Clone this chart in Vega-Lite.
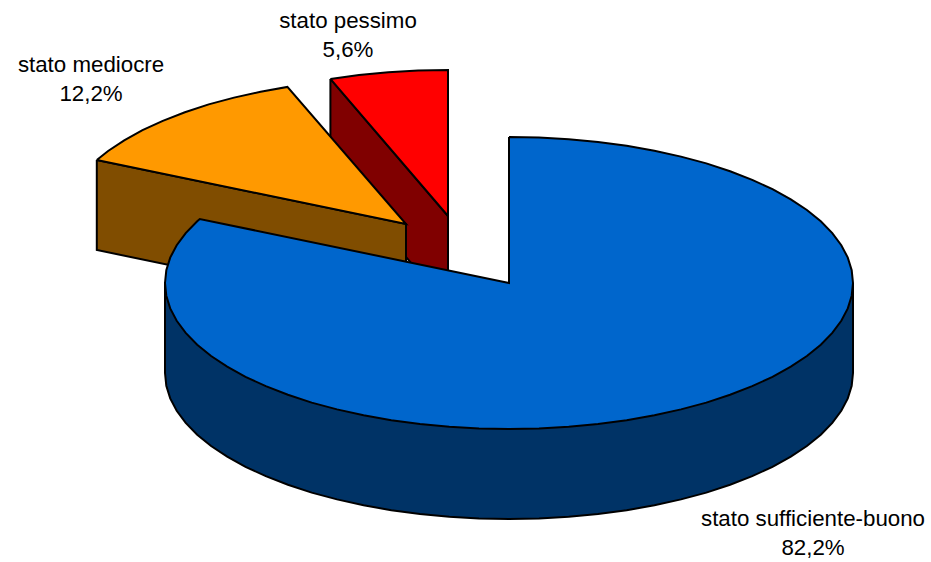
{
  "$schema": "https://vega.github.io/schema/vega-lite/v6.json",
  "width": 931,
  "height": 562,
  "autosize": {"type": "fit", "contains": "padding"},
  "padding": 0,
  "background": "white",
  "view": {"stroke": null},
  "datasets": {
    "facce": [
      {"faccia":"pessimo lato","x":-178.6,"y":204.1},{"faccia":"pessimo lato","x":-61,"y":67},{"faccia":"pessimo lato","x":-61,"y":-23},{"faccia":"pessimo lato","x":-178.6,"y":114.1},{"faccia":"pessimo lato","x":-178.6,"y":204.1},

      {"faccia":"pessimo","x":-178.6,"y":204.1},{"faccia":"pessimo","x":-150,"y":208},{"faccia":"pessimo","x":-120.7,"y":210.8},{"faccia":"pessimo","x":-91,"y":212.4},{"faccia":"pessimo","x":-61,"y":213},{"faccia":"pessimo","x":-61,"y":67},{"faccia":"pessimo","x":-178.6,"y":204.1},

      {"faccia":"mediocre lato","x":-412.2,"y":123},{"faccia":"mediocre lato","x":-103,"y":59},{"faccia":"mediocre lato","x":-103,"y":-31},{"faccia":"mediocre lato","x":-412.2,"y":33},{"faccia":"mediocre lato","x":-412.2,"y":123},

      {"faccia":"mediocre","x":-412.2,"y":123},{"faccia":"mediocre","x":-400.9,"y":132},{"faccia":"mediocre","x":-384.8,"y":142.7},{"faccia":"mediocre","x":-366.5,"y":152.8},{"faccia":"mediocre","x":-346.2,"y":162.2},{"faccia":"mediocre","x":-324.1,"y":170.8},{"faccia":"mediocre","x":-300.3,"y":178.6},{"faccia":"mediocre","x":-275,"y":185.4},{"faccia":"mediocre","x":-248.4,"y":191.3},{"faccia":"mediocre","x":-221.6,"y":196.1},{"faccia":"mediocre","x":-103,"y":59},{"faccia":"mediocre","x":-412.2,"y":123},

      {"faccia":"sufficiente lato","x":344,"y":0},{"faccia":"sufficiente lato","x":344,"y":-90},{"faccia":"sufficiente lato","x":342.7,"y":-102.7},{"faccia":"sufficiente lato","x":338.8,"y":-115.4},{"faccia":"sufficiente lato","x":332.3,"y":-127.8},{"faccia":"sufficiente lato","x":323.3,"y":-139.9},{"faccia":"sufficiente lato","x":311.8,"y":-151.7},{"faccia":"sufficiente lato","x":297.9,"y":-163},{"faccia":"sufficiente lato","x":281.8,"y":-173.7},{"faccia":"sufficiente lato","x":263.5,"y":-183.8},{"faccia":"sufficiente lato","x":243.2,"y":-193.2},{"faccia":"sufficiente lato","x":221.1,"y":-201.8},{"faccia":"sufficiente lato","x":197.3,"y":-209.6},{"faccia":"sufficiente lato","x":172,"y":-216.4},{"faccia":"sufficiente lato","x":145.4,"y":-222.3},{"faccia":"sufficiente lato","x":117.7,"y":-227.2},{"faccia":"sufficiente lato","x":89,"y":-231},{"faccia":"sufficiente lato","x":59.7,"y":-233.8},{"faccia":"sufficiente lato","x":30,"y":-235.4},{"faccia":"sufficiente lato","x":0,"y":-236},{"faccia":"sufficiente lato","x":-30,"y":-235.4},{"faccia":"sufficiente lato","x":-59.7,"y":-233.8},{"faccia":"sufficiente lato","x":-89,"y":-231},{"faccia":"sufficiente lato","x":-117.7,"y":-227.2},{"faccia":"sufficiente lato","x":-145.4,"y":-222.3},{"faccia":"sufficiente lato","x":-172,"y":-216.4},{"faccia":"sufficiente lato","x":-197.3,"y":-209.6},{"faccia":"sufficiente lato","x":-221.1,"y":-201.8},{"faccia":"sufficiente lato","x":-243.2,"y":-193.2},{"faccia":"sufficiente lato","x":-263.5,"y":-183.8},{"faccia":"sufficiente lato","x":-281.8,"y":-173.7},{"faccia":"sufficiente lato","x":-297.9,"y":-163},{"faccia":"sufficiente lato","x":-311.8,"y":-151.7},{"faccia":"sufficiente lato","x":-323.3,"y":-139.9},{"faccia":"sufficiente lato","x":-332.3,"y":-127.8},{"faccia":"sufficiente lato","x":-338.8,"y":-115.4},{"faccia":"sufficiente lato","x":-342.7,"y":-102.7},{"faccia":"sufficiente lato","x":-344,"y":-90},{"faccia":"sufficiente lato","x":-344,"y":0},{"faccia":"sufficiente lato","x":344,"y":0},

      {"faccia":"sufficiente","x":0,"y":146},{"faccia":"sufficiente","x":30,"y":145.4},{"faccia":"sufficiente","x":59.7,"y":143.8},{"faccia":"sufficiente","x":89,"y":141},{"faccia":"sufficiente","x":117.7,"y":137.2},{"faccia":"sufficiente","x":145.4,"y":132.3},{"faccia":"sufficiente","x":172,"y":126.4},{"faccia":"sufficiente","x":197.3,"y":119.6},{"faccia":"sufficiente","x":221.1,"y":111.8},{"faccia":"sufficiente","x":243.2,"y":103.2},{"faccia":"sufficiente","x":263.5,"y":93.8},{"faccia":"sufficiente","x":281.8,"y":83.7},{"faccia":"sufficiente","x":297.9,"y":73},{"faccia":"sufficiente","x":311.8,"y":61.7},{"faccia":"sufficiente","x":323.3,"y":49.9},{"faccia":"sufficiente","x":332.3,"y":37.8},{"faccia":"sufficiente","x":338.8,"y":25.4},{"faccia":"sufficiente","x":342.7,"y":12.7},{"faccia":"sufficiente","x":344,"y":0},{"faccia":"sufficiente","x":342.7,"y":-12.7},{"faccia":"sufficiente","x":338.8,"y":-25.4},{"faccia":"sufficiente","x":332.3,"y":-37.8},{"faccia":"sufficiente","x":323.3,"y":-49.9},{"faccia":"sufficiente","x":311.8,"y":-61.7},{"faccia":"sufficiente","x":297.9,"y":-73},{"faccia":"sufficiente","x":281.8,"y":-83.7},{"faccia":"sufficiente","x":263.5,"y":-93.8},{"faccia":"sufficiente","x":243.2,"y":-103.2},{"faccia":"sufficiente","x":221.1,"y":-111.8},{"faccia":"sufficiente","x":197.3,"y":-119.6},{"faccia":"sufficiente","x":172,"y":-126.4},{"faccia":"sufficiente","x":145.4,"y":-132.3},{"faccia":"sufficiente","x":117.7,"y":-137.2},{"faccia":"sufficiente","x":89,"y":-141},{"faccia":"sufficiente","x":59.7,"y":-143.8},{"faccia":"sufficiente","x":30,"y":-145.4},{"faccia":"sufficiente","x":0,"y":-146},{"faccia":"sufficiente","x":-30,"y":-145.4},{"faccia":"sufficiente","x":-59.7,"y":-143.8},{"faccia":"sufficiente","x":-89,"y":-141},{"faccia":"sufficiente","x":-117.7,"y":-137.2},{"faccia":"sufficiente","x":-145.4,"y":-132.3},{"faccia":"sufficiente","x":-172,"y":-126.4},{"faccia":"sufficiente","x":-197.3,"y":-119.6},{"faccia":"sufficiente","x":-221.1,"y":-111.8},{"faccia":"sufficiente","x":-243.2,"y":-103.2},{"faccia":"sufficiente","x":-263.5,"y":-93.8},{"faccia":"sufficiente","x":-281.8,"y":-83.7},{"faccia":"sufficiente","x":-297.9,"y":-73},{"faccia":"sufficiente","x":-311.8,"y":-61.7},{"faccia":"sufficiente","x":-323.3,"y":-49.9},{"faccia":"sufficiente","x":-332.3,"y":-37.8},{"faccia":"sufficiente","x":-338.8,"y":-25.4},{"faccia":"sufficiente","x":-342.7,"y":-12.7},{"faccia":"sufficiente","x":-344,"y":0},{"faccia":"sufficiente","x":-342.7,"y":12.7},{"faccia":"sufficiente","x":-338.8,"y":25.4},{"faccia":"sufficiente","x":-332.3,"y":37.8},{"faccia":"sufficiente","x":-323.3,"y":49.9},{"faccia":"sufficiente","x":-311.8,"y":61.7},{"faccia":"sufficiente","x":-309.2,"y":64},{"faccia":"sufficiente","x":0,"y":0},{"faccia":"sufficiente","x":0,"y":146}
    ],
    "etichette": [
      {"stato":"stato pessimo","quota":5.6,"testo":"stato pessimo\n5,6%","x":-161,"y":262},
      {"stato":"stato mediocre","quota":12.2,"testo":"stato mediocre\n12,2%","x":-418,"y":218},
      {"stato":"stato sufficiente-buono","quota":82.2,"testo":"stato sufficiente-buono\n82,2%","x":304,"y":-236}
    ]
  },
  "layer": [
    {
      "data": {"name": "facce"},
      "mark": {"type": "line", "filled": true, "stroke": "black", "strokeWidth": 2, "strokeJoin": "miter", "opacity": 1},
      "encoding": {
        "x": {"field": "x", "type": "quantitative", "axis": null, "scale": {"domain": [-509, 422], "nice": false, "zero": false}},
        "y": {"field": "y", "type": "quantitative", "axis": null, "scale": {"domain": [-279, 283], "nice": false, "zero": false}},
        "fill": {
          "field": "faccia",
          "type": "nominal",
          "legend": null,
          "scale": {
            "domain": ["pessimo lato", "pessimo", "mediocre lato", "mediocre", "sufficiente lato", "sufficiente"],
            "range": ["#800000", "#FF0000", "#804D00", "#FF9900", "#003366", "#0066CC"]
          }
        },
        "order": {"value": null}
      }
    },
    {
      "data": {"name": "etichette"},
      "mark": {"type": "text", "font": "Liberation Sans", "fontSize": 22.3, "lineBreak": "\n", "lineHeight": 28.5, "align": "center", "baseline": "middle", "color": "black"},
      "encoding": {
        "x": {"field": "x", "type": "quantitative"},
        "y": {"field": "y", "type": "quantitative"},
        "text": {"field": "testo", "type": "nominal"}
      }
    }
  ]
}
